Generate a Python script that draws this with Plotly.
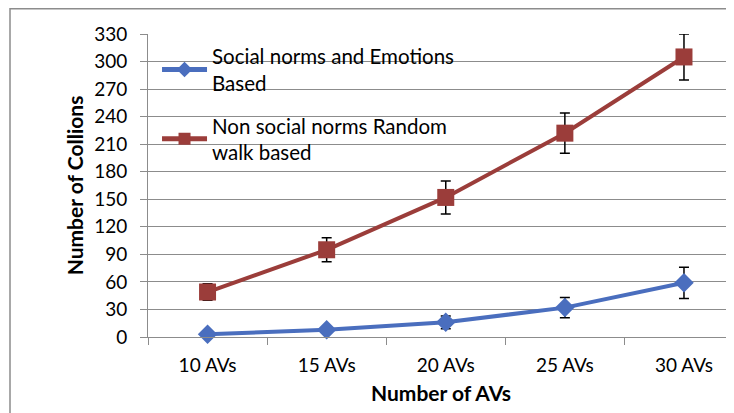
import plotly.graph_objects as go

categories = ["10 AVs", "15 AVs", "20 AVs", "25 AVs", "30 AVs"]
social = [3, 8, 16, 32, 59]
social_err = [1, 1, 7, 11, 17]
nonsocial = [49, 95, 152, 222, 305]
nonsocial_err = [9, 13, 18, 22, 25]
y_ticks = [0, 30, 60, 90, 120, 150, 180, 210, 240, 270, 300, 330]

FONT = "Lato"
blue = "#4A6EBE"
red = "#9B3D3A"
grid = "#8c8c8c"

W, H = 726, 405
ML, MR, MT, MB = 140, 0, 26, 76
PW = W - ML - MR
PH = H - MT - MB

fig = go.Figure()
fig.add_trace(go.Scatter(
    x=categories, y=social, mode="lines+markers",
    name="Social norms and Emotions<br>Based", legendgroup="a",
    line=dict(color=blue, width=4),
    marker=dict(symbol="diamond", size=15, color=blue),
    error_y=dict(type="data", array=social_err, color="black", thickness=1.5, width=5),
    cliponaxis=False,
))
fig.add_trace(go.Scatter(
    x=categories, y=nonsocial, mode="lines+markers",
    name="Non social norms Random<br>walk based", legendgroup="b",
    line=dict(color=red, width=4),
    marker=dict(symbol="square", size=17, color=red),
    error_y=dict(type="data", array=nonsocial_err, color="black", thickness=1.5, width=5),
    cliponaxis=False,
))

fig.update_layout(
    width=W, height=H,
    margin=dict(l=ML, r=MR, t=MT, b=MB, autoexpand=False),
    paper_bgcolor="white", plot_bgcolor="white",
    font=dict(family=FONT, size=19, color="black"),
    showlegend=True,
    legend=dict(
        x=0.0154, y=0.992, xanchor="left", yanchor="top",
        bgcolor="rgba(255,255,255,0)", font=dict(family=FONT, size=20.5),
        tracegroupgap=13, itemwidth=45, itemsizing="constant",
    ),
    xaxis=dict(
        type="category", range=[-0.5, 4.42],
        showgrid=False, showline=True, linecolor=grid, linewidth=1,
        ticks="outside", tickson="boundaries", ticklen=7, tickcolor=grid,
        ticklabelstandoff=11,
        title=dict(text="<b>Number of AVs</b>", font=dict(family=FONT, size=21), standoff=11),
        tickfont=dict(family=FONT, size=19),
    ),
    yaxis=dict(
        range=[0, 330], tickvals=y_ticks,
        showgrid=True, gridcolor=grid, gridwidth=1,
        showline=True, linecolor=grid, linewidth=1,
        ticks="outside", ticklen=7, tickcolor=grid,
        ticklabelstandoff=9,
        zeroline=False,
        title=dict(text="<b>Number of Collions</b>", font=dict(family=FONT, size=21), standoff=4),
        tickfont=dict(family=FONT, size=19),
    ),
    shapes=[dict(
        type="rect", xref="paper", yref="paper",
        x0=(2 - ML) / PW, x1=1.2, y0=-0.5, y1=1 + (MT - 0.75) / PH,
        line=dict(color=grid, width=1.5), fillcolor="rgba(0,0,0,0)", layer="below",
    )],
)

fig.write_html("out.html")
